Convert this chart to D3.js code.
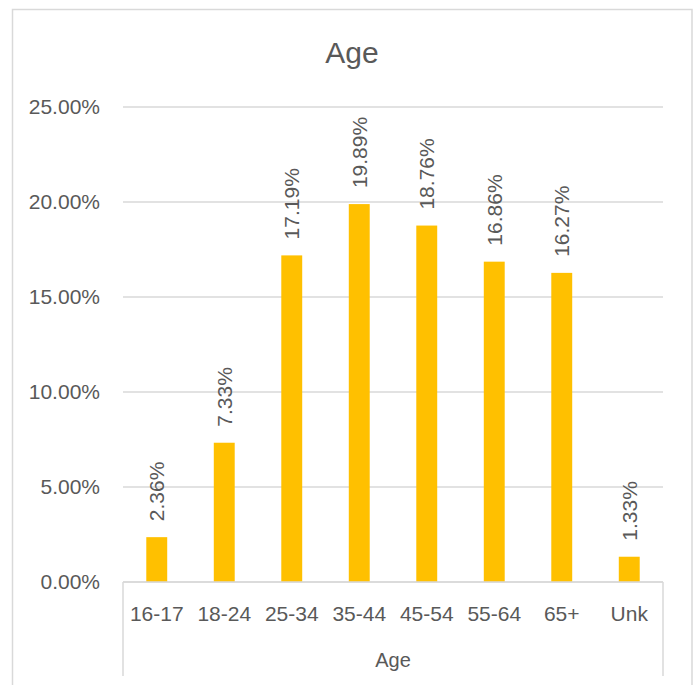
<!DOCTYPE html>
<html>
<head>
<meta charset="utf-8">
<script src="https://cdn.jsdelivr.net/npm/d3@7"></script>
<style>
  body { margin: 0; background: #fff; }
  text { font-family: "Liberation Sans", Arial, sans-serif; fill: #595959; }
</style>
</head>
<body>
<svg width="697" height="685"></svg>
<script>
// Data
const categories = ["16-17", "18-24", "25-34", "35-44", "45-54", "55-64", "65+", "Unk"];
const values = [2.36, 7.33, 17.19, 19.89, 18.76, 16.86, 16.27, 1.33];
const yTicks = [0, 5, 10, 15, 20, 25];

const svg = d3.select("svg");

// Plot box
const plotLeft = 123, plotRight = 663, plotTop = 107, plotBottom = 582;

// outer border
svg.append("rect")
    .attr("x", 12.5).attr("y", 9.5)
    .attr("width", 679.5).attr("height", 690)
    .attr("fill", "none")
    .attr("stroke", "#d9d9d9")
    .attr("stroke-width", 1.5);

const x = d3.scaleBand()
    .domain(categories)
    .range([plotLeft, plotRight])
    .paddingInner(0.69)
    .paddingOuter(0.345);

const y = d3.scaleLinear()
    .domain([0, 25])
    .range([plotBottom, plotTop]);

// gridlines
svg.append("g")
    .selectAll("line")
    .data(yTicks)
    .join("line")
    .attr("x1", plotLeft).attr("x2", plotRight)
    .attr("y1", d => y(d)).attr("y2", d => y(d))
    .attr("stroke", "#d9d9d9")
    .attr("stroke-width", 1.5);

// y labels
svg.append("g")
    .selectAll("text")
    .data(yTicks)
    .join("text")
    .attr("x", 100)
    .attr("y", d => y(d))
    .attr("dy", "0.35em")
    .attr("text-anchor", "end")
    .attr("font-size", 21)
    .text(d => d.toFixed(2) + "%");

// bars
svg.append("g")
    .selectAll("rect")
    .data(values)
    .join("rect")
    .attr("x", (d, i) => x(categories[i]))
    .attr("y", d => y(d))
    .attr("width", x.bandwidth())
    .attr("height", d => y(0) - y(d))
    .attr("fill", "#ffc000");

// value labels, rotated
svg.append("g")
    .selectAll("text")
    .data(values)
    .join("text")
    .attr("transform", (d, i) => `translate(${x(categories[i]) + x.bandwidth() / 2},${y(d) - 16}) rotate(-90)`)
    .attr("dy", "0.36em")
    .attr("font-size", 21)
    .text(d => d.toFixed(2) + "%");

// x axis line + group brackets
svg.append("line")
    .attr("x1", plotLeft).attr("x2", plotRight)
    .attr("y1", plotBottom).attr("y2", plotBottom)
    .attr("stroke", "#d9d9d9").attr("stroke-width", 1.5);
[plotLeft, plotRight].forEach(xx => {
    svg.append("line")
        .attr("x1", xx).attr("x2", xx)
        .attr("y1", plotBottom).attr("y2", 676)
        .attr("stroke", "#d9d9d9").attr("stroke-width", 1.5);
});

// category labels
svg.append("g")
    .selectAll("text")
    .data(categories)
    .join("text")
    .attr("x", d => x(d) + x.bandwidth() / 2)
    .attr("y", 621)
    .attr("text-anchor", "middle")
    .attr("font-size", 21)
    .text(d => d);

// axis group title
svg.append("text")
    .attr("x", (plotLeft + plotRight) / 2)
    .attr("y", 667)
    .attr("text-anchor", "middle")
    .attr("font-size", 20)
    .text("Age");

// chart title
svg.append("text")
    .attr("x", 352)
    .attr("y", 63)
    .attr("text-anchor", "middle")
    .attr("font-size", 30)
    .text("Age");
</script>
</body>
</html>
